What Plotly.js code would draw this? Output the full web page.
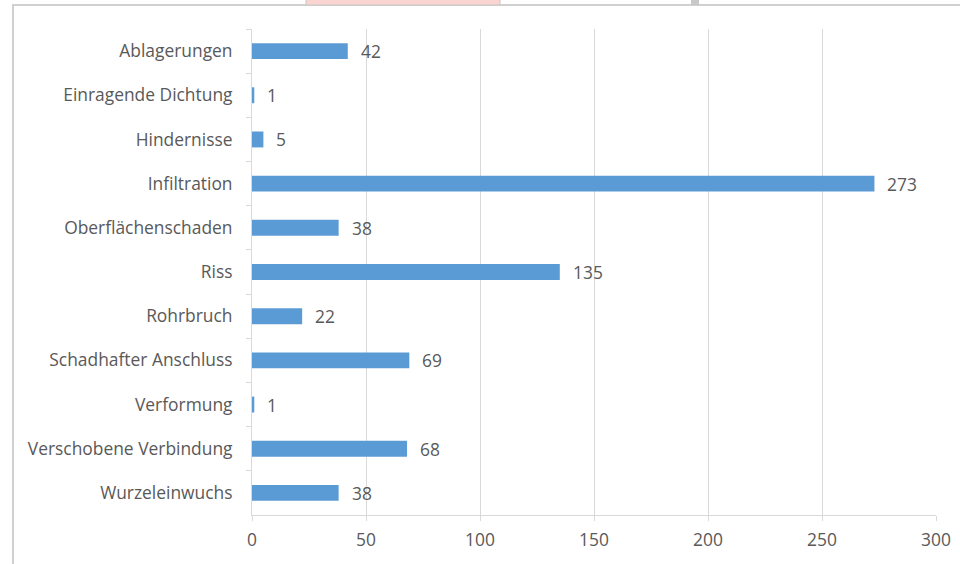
<!DOCTYPE html>
<html>
<head>
<meta charset="utf-8">
<script src="https://cdn.plot.ly/plotly-3.0.1.min.js"></script>
<style>
html,body{margin:0;padding:0;background:#fff;}
#chart{width:960px;height:564px;}
</style>
</head>
<body>
<div id="chart"></div>
<script>
const categories = ["Ablagerungen","Einragende Dichtung","Hindernisse","Infiltration","Oberflächenschaden","Riss","Rohrbruch","Schadhafter Anschluss","Verformung","Verschobene Verbindung","Wurzeleinwuchs"];
const values = [42,1,5,273,38,135,22,69,1,68,38];
const xTicks = [0,50,100,150,200,250,300];

const fontFam = "'Open Sans', sans-serif";
const textColor = "#595959";
const grid = "#d9d9d9";
const fs = 17.4;

const trace = {
  type: "bar",
  orientation: "h",
  y: categories,
  x: values,
  marker: {color: "#5b9bd5", line: {width: 0}},
  hoverinfo: "none"
};

const annotations = categories.map((c, i) => ({
  x: values[i], y: c, xref: "x", yref: "y",
  text: String(values[i]), showarrow: false,
  xanchor: "left", yanchor: "middle", xshift: 11, yshift: 0,
  font: {family: fontFam, size: fs, color: textColor}
}));

// paper coordinates for frame
const L = 252, R = 936, T = 29, B = 515;
const px = v => (v - L) / (R - L);
const py = v => (B - v) / (B - T);

const shapes = [
  {type: "path", xref: "paper", yref: "paper",
   path: `M ${px(13)} ${py(570)} L ${px(13)} ${py(5)} L ${px(965)} ${py(5)}`,
   line: {color: "#d0d0d0", width: 2}},
  {type: "rect", xref: "paper", yref: "paper",
   x0: px(306), x1: px(500), y0: py(5), y1: py(-2),
   fillcolor: "#f9d4d0", line: {color: "#c8c8c8", width: 1}},
  {type: "rect", xref: "paper", yref: "paper",
   x0: px(691), x1: px(699), y0: py(5), y1: py(-2),
   fillcolor: "#c8c8c8", line: {width: 0}}
];

const layout = {
  width: 960, height: 564,
  margin: {l: L, r: 960 - R, t: T, b: 564 - B, pad: 0},
  paper_bgcolor: "#fff", plot_bgcolor: "#fff",
  showlegend: false,
  bargap: 0.64,
  font: {family: fontFam, size: fs, color: textColor},
  xaxis: {
    range: [0, 300], tickvals: xTicks, ticktext: xTicks.map(String),
    showgrid: true, gridcolor: grid, gridwidth: 1,
    zeroline: false, showline: true, linecolor: grid, linewidth: 1,
    ticks: "outside", ticklen: 5, tickcolor: grid,
    ticklabelstandoff: 4,
    tickfont: {family: fontFam, size: fs, color: textColor},
    fixedrange: true
  },
  yaxis: {
    autorange: "reversed", type: "category",
    showgrid: false, zeroline: false,
    showline: true, linecolor: grid, linewidth: 1,
    ticks: "outside", ticklen: 5, tickcolor: grid, tickson: "boundaries",
    ticklabelstandoff: 15,
    tickfont: {family: fontFam, size: fs, color: textColor},
    fixedrange: true
  },
  annotations: annotations,
  shapes: shapes
};

Plotly.newPlot("chart", [trace], layout, {staticPlot: true, displayModeBar: false});
</script>
</body>
</html>
